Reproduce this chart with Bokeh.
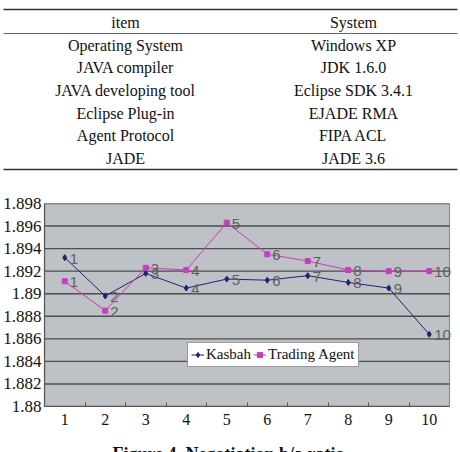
from bokeh.plotting import figure
from bokeh.layouts import column
from bokeh.models import (Range1d, FixedTicker, CustomJSTickFormatter, ColumnDataSource,
                          LabelSet, Legend, LegendItem)
from bokeh.core.properties import value
from bokeh.embed import file_html
from bokeh.resources import INLINE

# ---- experiment environment table ----
table_header = ["item", "System"]
table_items = ["Operating System", "JAVA compiler", "JAVA developing tool",
               "Eclipse Plug-in", "Agent Protocol", "JADE"]
table_systems = ["Windows XP", "JDK 1.6.0", "Eclipse SDK 3.4.1",
                 "EJADE RMA", "FIPA ACL", "JADE 3.6"]

# ---- negotiation b/a ratio per run ----
runs = [1, 2, 3, 4, 5, 6, 7, 8, 9, 10]
kasbah = [1.8932, 1.8898, 1.8918, 1.8905, 1.8913, 1.8912, 1.8916, 1.8910, 1.8905, 1.8864]
trading_agent = [1.8911, 1.8885, 1.8923, 1.8921, 1.8963, 1.8935, 1.8929, 1.8921, 1.8920, 1.8920]
y_ticks = [1.88, 1.882, 1.884, 1.886, 1.888, 1.89, 1.892, 1.894, 1.896, 1.898]
caption = "Figure 4. Negotiation b/a ratio"

SERIF = "Liberation Serif"
SANS = "Liberation Sans"
W = 460
TABLE_H, CHART_H = 185, 254
CAPTION_H = 452 - TABLE_H - CHART_H


def blank_panel(h):
    """A borderless figure whose data space is its own pixel grid (y downwards)."""
    f = figure(width=W, height=h, output_backend="svg", toolbar_location=None,
               x_axis_location=None, y_axis_location=None,
               x_range=Range1d(0, W), y_range=Range1d(h, 0),
               min_border=0, min_border_left=0, min_border_right=0,
               min_border_top=0, min_border_bottom=0)
    f.frame_align = False
    f.grid.visible = False
    f.outline_line_color = None
    f.background_fill_color = "white"
    f.border_fill_color = "white"
    return f


# ---------------- table ----------------
tab = blank_panel(TABLE_H)
col_x = [125, 353]
header_y = 21.5
row_y0, row_step = 44.7, 22.6

tab.segment(x0=[3, 3, 3], y0=[9, 33, 169], x1=[457, 457, 457], y1=[9, 33, 169],
            line_color=["#333333", "#666666", "#333333"], line_width=[1.6, 1.0, 1.6])

txt = dict(text_align="center", text_baseline="middle", text_font=value(SERIF),
           text_font_size="16px", text_color="#111111")
tab.text(x=col_x, y=[header_y, header_y], text=table_header, **txt)
rows_y = [row_y0 + i * row_step for i in range(len(table_items))]
tab.text(x=[col_x[0]] * len(table_items), y=rows_y, text=table_items, **txt)
tab.text(x=[col_x[1]] * len(table_systems), y=rows_y, text=table_systems, **txt)

# ---------------- chart ----------------
# The frame runs to the right edge so point labels past the last run stay visible;
# the grey plot area itself stops half a category after the last run.
x_lo, x_hi = runs[0] - 0.5, runs[-1] + 0.5
cat_px = 405 / len(runs)
frame_px = W - 44
p = figure(width=W, height=CHART_H, output_backend="svg", toolbar_location=None,
           x_range=Range1d(x_lo, x_lo + frame_px / cat_px),
           y_range=Range1d(y_ticks[0], y_ticks[-1]),
           min_border_left=44, min_border_right=0, min_border_top=18, min_border_bottom=33)
p.frame_align = False
p.background_fill_color = "white"
p.border_fill_color = "white"
p.outline_line_color = None
p.grid.visible = False

p.quad(left=x_lo, right=x_hi, bottom=y_ticks[0], top=y_ticks[-1],
       fill_color="#BEC1C6", line_color="#8c8c8c", line_width=1.2)
p.segment(x0=[x_lo] * len(y_ticks), x1=[x_hi] * len(y_ticks), y0=y_ticks, y1=y_ticks,
          line_color="#4d4d4d", line_width=1.4)

p.xaxis.bounds = (x_lo, x_hi)
p.xaxis.ticker = FixedTicker(ticks=runs, minor_ticks=[r + 0.5 for r in runs[:-1]])
p.xaxis.major_tick_in = 0
p.xaxis.major_tick_out = 0
p.xaxis.minor_tick_in = 4
p.xaxis.minor_tick_out = 0
p.xaxis.minor_tick_line_color = "#555555"
p.xaxis.major_label_standoff = 7

p.yaxis.ticker = FixedTicker(ticks=y_ticks)
p.yaxis.formatter = CustomJSTickFormatter(code="return tick.toFixed(3).replace(/0+$/, '');")
p.yaxis.major_tick_in = 0
p.yaxis.major_tick_out = 0
p.yaxis.minor_tick_line_color = None
p.yaxis.major_label_standoff = 3

for ax in (p.xaxis, p.yaxis):
    ax.axis_line_color = "#555555"
    ax.axis_line_width = 1.2
    ax.major_label_text_font = SERIF
    ax.major_label_text_color = "#111111"
p.xaxis.major_label_text_font_size = "16px"
p.yaxis.major_label_text_font_size = "17px"

KAS_COL = "#1c2470"
TA_COL = "#c83cc0"

k_line = p.line(runs, kasbah, line_color=KAS_COL, line_width=1)
k_pts = p.scatter(runs, kasbah, marker="diamond", size=6, color=KAS_COL)
t_line = p.line(runs, trading_agent, line_color=TA_COL, line_width=1)
t_pts = p.scatter(runs, trading_agent, marker="square", size=5, color=TA_COL)

point_names = [str(r) for r in runs]
for ys in (kasbah, trading_agent):
    src = ColumnDataSource(dict(x=runs, y=ys, t=point_names))
    p.add_layout(LabelSet(x="x", y="y", text="t", source=src, x_offset=5, y_offset=-1,
                          text_baseline="middle", text_font=value(SANS),
                          text_font_size="15px", text_color="#606060"))

legend = Legend(items=[LegendItem(label="Kasbah", renderers=[k_line, k_pts]),
                       LegendItem(label="Trading Agent", renderers=[t_line, t_pts])],
                orientation="horizontal", location=(143, 39),
                label_text_font=SERIF, label_text_font_size="15px",
                label_text_color="#111111",
                glyph_width=13, glyph_height=13, label_standoff=2, spacing=2,
                padding=3, margin=0, border_line_color="#333333", border_line_width=1,
                background_fill_color="white", background_fill_alpha=1)
p.add_layout(legend)

# ---------------- caption ----------------
cap = blank_panel(CAPTION_H)
cap.text(x=[228], y=[4], text=[caption], text_align="center", text_baseline="top",
         text_font=value(SERIF), text_font_size="18px", text_font_style="bold",
         text_color="#111111")

layout = column(tab, p, cap)
open("out.html", "w").write(file_html(layout, INLINE))
